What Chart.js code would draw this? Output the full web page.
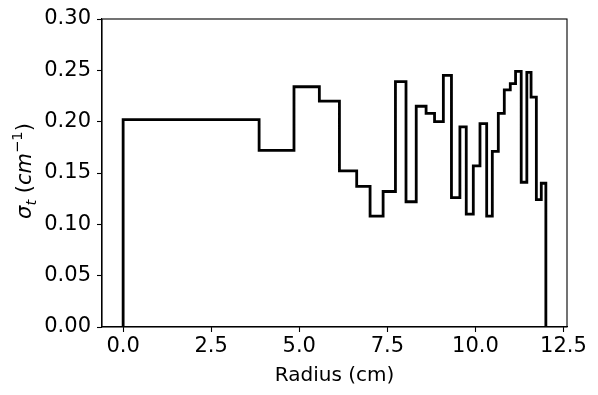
<!DOCTYPE html>
<html><head><meta charset="utf-8">
<script src="https://cdn.jsdelivr.net/npm/chart.js@4/dist/chart.umd.min.js"></script>
<style>html,body{margin:0;padding:0;background:#fff}#wrap{width:598px;height:395px}</style>
</head><body><div id="wrap"><canvas id="c" width="598" height="395"></canvas></div>
<script>
// Radial bins: start radius of each bin (cm) and total cross-section sigma_t (1/cm)
const binStarts = [0, 3.86, 4.85, 5.57, 6.14, 6.63, 7.01, 7.38, 7.73, 8.03,
  8.32, 8.60, 8.84, 9.09, 9.32, 9.56, 9.74, 9.94, 10.13, 10.32,
  10.48, 10.65, 10.82, 10.99, 11.14, 11.30, 11.46, 11.58, 11.73, 11.87];
const sigmaT = [0.202, 0.172, 0.234, 0.220, 0.152, 0.137, 0.108, 0.132, 0.239, 0.122,
  0.215, 0.208, 0.200, 0.245, 0.126, 0.195, 0.110, 0.157, 0.198, 0.108,
  0.171, 0.208, 0.231, 0.237, 0.249, 0.141, 0.248, 0.224, 0.124, 0.140];
const outerRadius = 12.0;
const xTickValues = [0, 2.5, 5, 7.5, 10, 12.5];
const yTickValues = [0, 0.05, 0.10, 0.15, 0.20, 0.25, 0.30];
const xLabel = 'Radius (cm)';

// build step points: start at (0,0), each bin start with its value, end at (R,0)
const pts = [{x: binStarts[0], y: 0}];
binStarts.forEach((r, i) => pts.push({x: r, y: sigmaT[i]}));
pts.push({x: outerRadius, y: 0});

const FONT = 'DejaVu Sans';

const framePlugin = {
  id: 'frame',
  afterDraw(chart) {
    const {ctx, chartArea: a} = chart;
    ctx.save();
    ctx.strokeStyle = '#000';
    ctx.lineWidth = 1.1;
    ctx.strokeRect(a.left, a.top, a.right - a.left, a.bottom - a.top);
    ctx.restore();
  }
};

const yTitlePlugin = {
  id: 'ytitle',
  afterDraw(chart) {
    const {ctx, chartArea: a} = chart;
    const size = 21;
    const parts = [
      {t: 'σ', f: `italic ${size}px "${FONT}"`, dy: 0},
      {t: 't', f: `italic ${size * 0.7}px "${FONT}"`, dy: size * 0.22},
      {t: ' (', f: `${size}px "${FONT}"`, dy: 0},
      {t: 'cm', f: `italic ${size}px "${FONT}"`, dy: 0},
      {t: '−1', f: `${size * 0.7}px "${FONT}"`, dy: -size * 0.42},
      {t: ')', f: `${size}px "${FONT}"`, dy: 0}
    ];
    ctx.save();
    let total = 0;
    parts.forEach(p => { ctx.font = p.f; p.w = ctx.measureText(p.t).width; total += p.w; });
    ctx.translate(31, (a.top + a.bottom) / 2 - 2);
    ctx.rotate(-Math.PI / 2);
    ctx.fillStyle = '#000';
    ctx.textBaseline = 'alphabetic';
    ctx.textAlign = 'left';
    let x = -total / 2;
    parts.forEach(p => { ctx.font = p.f; ctx.fillText(p.t, x, p.dy); x += p.w; });
    ctx.restore();
  }
};

new Chart(document.getElementById('c'), {
  type: 'line',
  data: {
    datasets: [{
      data: pts,
      stepped: 'before',
      borderColor: '#000',
      borderWidth: 2.8,
      pointRadius: 0,
      fill: false,
      borderJoinStyle: 'miter',
      tension: 0
    }]
  },
  options: {
    responsive: false,
    devicePixelRatio: 1,
    animation: false,
    layout: {padding: {left: 0, right: 31, top: 19, bottom: 0}},
    plugins: {legend: {display: false}, tooltip: {enabled: false}},
    scales: {
      x: {
        type: 'linear',
        min: -0.6, max: 12.6,
        afterBuildTicks: s => { s.ticks = xTickValues.map(v => ({value: v})); },
        afterFit: s => { s.height = 68; },
        grid: {drawOnChartArea: false, drawTicks: true, tickLength: 5, color: '#000', tickWidth: 1.1},
        border: {display: true, color: '#000', width: 1.1},
        ticks: {color: '#000', font: {family: FONT, size: 21}, padding: 2, maxRotation: 0, autoSkip: false,
          callback: v => Number(v).toFixed(1)},
        title: {display: true, text: xLabel, color: '#000', font: {family: FONT, size: 20}, padding: {top: 0, bottom: 7}}
      },
      y: {
        type: 'linear',
        min: 0, max: 0.30,
        afterBuildTicks: s => { s.ticks = yTickValues.map(v => ({value: v})); },
        afterFit: s => { s.width = 102; },
        grid: {drawOnChartArea: false, drawTicks: true, tickLength: 5, color: '#000', tickWidth: 1.1},
        border: {display: true, color: '#000', width: 1.1},
        ticks: {color: '#000', font: {family: FONT, size: 21}, padding: 6, autoSkip: false,
          callback: v => Number(v).toFixed(2)}
      }
    }
  },
  plugins: [framePlugin, yTitlePlugin]
});
</script>
</body></html>
